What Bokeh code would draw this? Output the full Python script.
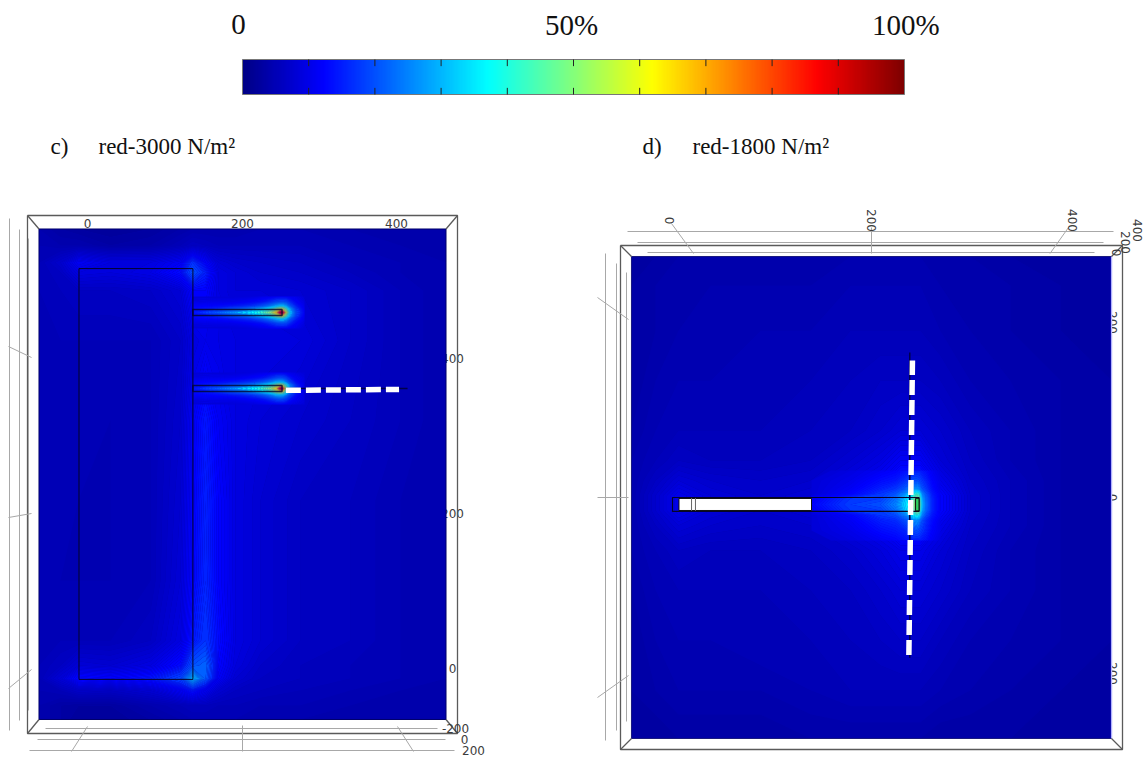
import numpy as np
from bokeh.core.properties import value
from bokeh.embed import file_html
from bokeh.models import LinearColorMapper, Range1d
from bokeh.plotting import figure
from bokeh.resources import INLINE

# ---------- colour scale (percent, r, g, b)
SCALE_STOPS = [0, 12, 37, 62, 87, 100]
SCALE_R = [0, 0, 0, 255, 255, 128]
SCALE_G = [0, 0, 255, 255, 0, 0]
SCALE_B = [135, 255, 255, 0, 0, 0]
BAR_LABELS = ["0", "50%", "100%"]
BAR_LABEL_AT = [-0.6, 49.7, 100.2]
BAR_TICKS = [10, 20, 30, 40, 50, 60, 70, 80, 90]

# ---------- panel c: stress field (percent of scale)
C_X = [-62.6, -34.8, -11.6, 29.7, 81.3, 120, 135.5, 152.3, 169, 191, 223.2, 274.8, 339.4, 403.9, 462.6]
C_Y = [567.1, 545.8, 523.9, 511, 487.7, 423.2, 320, 216.8, 113.5, 36.1, 3.9, -12.9, -28.4, -47.7, -65.8]
C_FIELD = [
    [4, 3, 2.5, 2, 2.5, 3.5, 4, 4, 4, 4, 4.5, 4.5, 4, 4, 4],
    [4.5, 4, 4, 3, 3.5, 5, 6, 5.5, 5, 5, 5, 5, 4.5, 4, 4],
    [5, 7, 11, 9, 9, 11, 17, 12, 8, 7, 6.5, 6, 5, 4.5, 4],
    [5, 6, 9, 8.5, 9.5, 13, 20, 15, 9, 8, 7, 6.5, 5.5, 4.5, 4],
    [5, 5.5, 6, 6, 6.5, 8, 12, 12, 9, 8, 8, 7.5, 6.5, 5, 4],
    [5, 5, 5, 5, 5, 6.5, 9, 10, 9.5, 9, 9, 8.5, 6.5, 5, 4],
    [5, 5, 5, 4.5, 5, 7, 11, 14, 11, 9, 8, 7, 6, 5, 4],
    [5, 5, 4.5, 4.5, 5, 7.5, 11.5, 15, 12, 9, 7.5, 6, 5.5, 4.5, 4],
    [5, 4.5, 4.5, 4.5, 5, 8, 12, 15.5, 12, 9, 7.5, 6, 5.5, 4.5, 4],
    [5, 5, 5, 5, 6, 9, 14, 17, 13, 9, 7.5, 6, 5.5, 4.5, 4],
    [5, 6, 8, 7.5, 9, 13, 20, 22, 12, 8.5, 6.5, 5.5, 5, 4.5, 4],
    [5, 8, 13, 12, 14, 19, 32, 21, 11, 7.5, 6, 5.5, 5, 4.5, 4],
    [4.5, 5, 6.5, 6, 7.5, 11, 14, 10.5, 7.5, 6, 5.5, 5, 4.5, 4, 4],
    [4, 3, 2.5, 2.5, 4, 5, 5.5, 5.5, 5, 5, 4.5, 4.5, 4, 4, 4],
    [4, 3, 2, 2, 3, 4, 4.5, 4.5, 4.5, 4.5, 4.5, 4, 4, 4, 4],
]
FIN_X = [135.5, 158.7, 184.5, 210.3, 225.8, 236.1, 243.9, 249, 252.9, 256.8, 262, 269.7, 280]
FIN1_Y = [480, 473.6, 468.4, 464.6, 459.4, 454.2, 450.4, 445.2, 438.8]
FIN2_Y = [381.9, 375.5, 370.3, 366.5, 361.3, 356.1, 352.3, 347.1, 340.7]
FIN1_FIELD = [
    [8, 8, 8, 8.5, 10, 11, 12, 12, 12, 12, 11, 10, 8],
    [9, 9.5, 10, 12, 14, 17, 20, 21, 21, 20, 16, 12, 9],
    [11, 12, 14, 17, 22, 27, 32, 34, 34, 30, 22, 15, 10],
    [13, 15, 20, 27, 34, 40, 50, 56, 54, 44, 30, 18, 11],
    [14, 20, 28, 36, 44, 52, 68, 96, 86, 58, 34, 20, 12],
    [13, 15, 20, 27, 34, 40, 50, 56, 54, 44, 30, 18, 11],
    [11, 12, 14, 17, 22, 27, 32, 34, 34, 30, 22, 15, 10],
    [9, 9.5, 10, 12, 14, 17, 20, 21, 21, 20, 16, 12, 9],
    [8, 8, 8, 8.5, 10, 11, 12, 12, 12, 12, 11, 10, 8],
]
FIN2_FIELD = [
    [8, 8, 8, 8.5, 10, 11, 12, 12, 12, 11, 10, 9, 8],
    [9, 9.5, 10, 12, 14, 17, 20, 21, 20, 18, 14, 11, 9],
    [11, 12, 14, 17, 22, 27, 32, 33, 32, 26, 19, 13, 9],
    [13, 15, 20, 27, 34, 40, 50, 54, 50, 40, 26, 16, 10],
    [14, 20, 28, 36, 44, 52, 66, 94, 80, 52, 30, 18, 11],
    [13, 15, 20, 27, 34, 40, 50, 54, 50, 40, 26, 16, 10],
    [11, 12, 14, 17, 22, 27, 32, 33, 32, 26, 19, 13, 9],
    [9, 9.5, 10, 12, 14, 17, 20, 21, 20, 18, 14, 11, 9],
    [8, 8, 8, 8.5, 10, 11, 12, 12, 12, 11, 10, 9, 8],
]

# ---------- panel d
D_X = [-69.7, -42.7, -16.9, 19.1, 75.3, 131.5, 176.4, 210.1, 232.6, 255.1, 277.5, 311.2, 356.2, 412.4, 469.7]
D_Y = [270.8, 238.2, 187.6, 131.5, 75.3, 41.6, 19.1, 2.2, -14.6, -31.5, -59.6, -104.5, -160.7, -216.9, -270.8]
D_FIELD = [
    [3, 3, 3.5, 3.5, 3.5, 3.5, 4, 4, 4, 4, 3.5, 3.5, 3, 3, 3],
    [3, 3.5, 4, 4, 4, 4, 4.5, 4.5, 4.5, 4.5, 4, 4, 3.5, 3, 3],
    [3, 3.5, 4, 4.5, 4.5, 4.5, 5, 5, 5, 5, 4.5, 4, 3.5, 3, 3],
    [3, 4, 4.5, 4.5, 5, 5, 5.5, 6, 6, 6, 5.5, 4.5, 4, 3.5, 3],
    [3.5, 4.5, 5, 5, 5, 5.5, 6, 7, 8, 8, 7, 5.5, 4.5, 3.5, 3],
    [4, 5, 6, 5.5, 5.5, 6, 7.5, 9, 11, 11, 8, 6, 4.5, 3.5, 3],
    [4, 6, 8, 7, 6.5, 7, 9, 11, 15, 15, 10, 6.5, 5, 3.5, 3],
    [4, 7, 10, 8, 7, 8, 11, 14, 20, 20, 12, 7, 5, 3.5, 3],
    [4, 7, 10, 8, 7, 8, 11, 14, 20, 20, 12, 7, 5, 3.5, 3],
    [4, 6, 8, 7, 6.5, 7, 9, 11, 15, 15, 10, 6.5, 5, 3.5, 3],
    [4, 5, 6, 5.5, 5.5, 6, 7, 8.5, 10, 10, 8, 6, 4.5, 3.5, 3],
    [3.5, 4.5, 5, 5, 5, 5.5, 6, 7, 8, 8, 7, 5.5, 4.5, 3.5, 3],
    [3, 4, 4.5, 4.5, 5, 5, 5.5, 6, 6.5, 6.5, 5.5, 4.5, 4, 3.5, 3],
    [3, 3.5, 4, 4, 4, 4.5, 5, 5, 5, 5, 4.5, 4, 3.5, 3, 3],
    [2.5, 2.5, 3, 3, 3, 3.5, 3.5, 3.5, 3.5, 3.5, 3, 3, 3, 2.5, 2.5],
]
TIP_X = [132.6, 176.4, 210.1, 227, 236, 241.6, 246.1, 250.6, 253.9, 257.3, 261.8, 268.5, 277.5]
TIP_Y = [30.3, 19.1, 10.1, 4.5, -1.1, -7.9, -14.6, -20.2, -25.8, -37.1, -48.3]
TIP_FIELD = [
    [7, 9, 11, 12, 13, 14, 15, 15, 15, 14, 13, 11, 9],
    [8, 10, 13, 14, 16, 18, 20, 20, 19, 17, 15, 12, 10],
    [8, 11, 15, 17, 20, 24, 28, 28, 26, 20, 17, 13, 10],
    [8, 12, 17, 20, 26, 32, 38, 42, 40, 26, 20, 14, 11],
    [11, 17, 18, 23, 30, 36, 44, 55, 50, 30, 22, 15, 11],
    [12, 18, 20, 25, 32, 38, 48, 60, 55, 32, 23, 15, 11],
    [11, 17, 18, 23, 30, 36, 44, 55, 50, 30, 22, 15, 11],
    [8, 12, 17, 19, 24, 30, 36, 40, 38, 26, 19, 14, 11],
    [8, 11, 15, 16, 19, 22, 27, 28, 26, 20, 16, 13, 10],
    [8, 10, 13, 14, 15, 17, 19, 20, 19, 17, 15, 12, 10],
    [7, 9, 11, 12, 13, 14, 15, 15, 15, 14, 13, 11, 9],
]

# ---------- pixel placement of the two plots and the bar
W, H = 1145, 759
PX_LEFT, PX_RIGHT, PX_BOTTOM, PX_TOP = 0, W, H, 0


def jet(v):
    r = np.interp(v, SCALE_STOPS, SCALE_R)
    g = np.interp(v, SCALE_STOPS, SCALE_G)
    b = np.interp(v, SCALE_STOPS, SCALE_B)
    return "#%02x%02x%02x" % (int(r), int(g), int(b))


p = figure(width=W, height=H, output_backend="svg", toolbar_location=None,
           x_range=Range1d(PX_LEFT, PX_RIGHT), y_range=Range1d(PX_BOTTOM, PX_TOP),
           min_border=0, outline_line_color=None)
p.xaxis.visible = False
p.yaxis.visible = False
p.grid.visible = False
p.background_fill_color = "white"


def add_scale(name, x0_px, y0_px, sx, sy):
    p.extra_x_ranges[name + "x"] = Range1d((PX_LEFT - x0_px) / sx, (PX_RIGHT - x0_px) / sx)
    p.extra_y_ranges[name + "y"] = Range1d((y0_px - PX_BOTTOM) / sy, (y0_px - PX_TOP) / sy)


add_scale("c", 87, 668, 0.775, 0.775)
add_scale("d", 693, 497, 0.89, 0.89)
add_scale("bar", 242, 94, 6.62, 35)

SER = value("Liberation Serif")
SANS = value("DejaVu Sans")
TICK_GRAY = "#a8a8a8"
FRAME = "#5a5a5a"
LABEL = "#3c3c3c"
BAR_Y = dict(x_range_name="barx", y_range_name="bary")
CS = dict(x_range_name="cx", y_range_name="cy")
DS = dict(x_range_name="dx", y_range_name="dy")

# ---------- colour bar
mapper = LinearColorMapper(palette=[jet(v) for v in np.linspace(0, 100, 256)], low=0, high=100)
p.image(image=[np.linspace(0, 100, 662).reshape(1, -1)], x=0, y=0, dw=100, dh=1,
        color_mapper=mapper, **BAR_Y)
p.quad(left=[0], right=[100], bottom=[0], top=[1], fill_alpha=0, line_color="#777777", line_width=1, **BAR_Y)
p.segment(x0=BAR_TICKS, x1=BAR_TICKS, y0=[0] * 9, y1=[0.19] * 9, line_color="#222222", line_width=1, **BAR_Y)
p.segment(x0=BAR_TICKS, x1=BAR_TICKS, y0=[1] * 9, y1=[0.81] * 9, line_color="#222222", line_width=1, **BAR_Y)
p.text(x=BAR_LABEL_AT, y=[2.0] * 3, text=BAR_LABELS, text_font=SER, text_font_size="29px",
       text_color="#111111", text_align="center", text_baseline="middle", **BAR_Y)

# ---------- headings
p.text(x=[50, 98, 642, 692], y=[146] * 4, text=["c)", "red-3000 N/m²", "d)", "red-1800 N/m²"],
       text_font=SER, text_font_size="23px", text_color="#111111", text_baseline="middle")

# ---------- plot furniture drawn beneath the fields
p.text(x=[452, 452, 452], y=[358, 513, 668], text=["400", "200", "0"], text_font=SANS, text_font_size="12px",
       text_color=LABEL, text_align="center", text_baseline="middle")
p.text(x=[1112, 1112, 1112], y=[322, 497, 673], text=["200", "0", "200"], angle=-np.pi / 2, text_font=SANS,
       text_font_size="12px", text_color=LABEL, text_align="center", text_baseline="middle")

# ---------- fields
LEVELS = list(np.arange(1.5, 16, 0.5)) + list(np.arange(16, 30, 1.0)) + list(np.arange(30, 101, 2.0))
LOCAL = [v for v in LEVELS if v >= 8]


def field(xs, ys, rows, levels, xr, yr):
    rows = np.array(rows, dtype=float)[::-1]
    ys = np.array(ys, dtype=float)[::-1]
    colors = [jet((a + b) / 2) for a, b in zip(levels[:-1], levels[1:])]
    cr = p.contour(np.array(xs, dtype=float), ys, rows, levels, fill_color=colors, line_color=None)
    g = cr.fill_renderer.glyph
    g.line_color = g.fill_color
    g.line_width = 0.7
    for r in (cr, cr.fill_renderer, cr.line_renderer):
        r.x_range_name = xr
        r.y_range_name = yr
    return cr


p.quad(left=[C_X[0]], right=[C_X[-1]], bottom=[C_Y[-1]], top=[C_Y[0]], fill_color=jet(4), line_color=None, **CS)
p.quad(left=[D_X[0]], right=[D_X[-1]], bottom=[D_Y[-1]], top=[D_Y[0]], fill_color=jet(3.5), line_color=None, **DS)
field(C_X, C_Y, C_FIELD, LEVELS, "cx", "cy")
field(FIN_X, FIN1_Y, FIN1_FIELD, LOCAL, "cx", "cy")
field(FIN_X, FIN2_Y, FIN2_FIELD, LOCAL, "cx", "cy")
field(D_X, D_Y, D_FIELD, LEVELS, "dx", "dy")
field(TIP_X, TIP_Y, TIP_FIELD, LOCAL, "dx", "dy")
p.quad(left=[C_X[0]], right=[C_X[-1]], bottom=[C_Y[-1]], top=[C_Y[0]], fill_alpha=0, line_color="#00006a",
       line_width=1, **CS)
p.quad(left=[D_X[0]], right=[D_X[-1]], bottom=[D_Y[-1]], top=[D_Y[0]], fill_alpha=0, line_color="#1a1a80",
       line_width=1, **DS)
p.line(x=[D_X[-1], D_X[-1]], y=[D_Y[0], D_Y[-1]], line_color="#b0b0ff", line_width=1.2, **DS)

# ---------- structure outlines
DARK = "#04042a"
p.quad(left=[-11], right=[136], bottom=[-14], top=[516], fill_alpha=0, line_color=DARK, line_width=1, **CS)
p.quad(left=[136, 136], right=[251, 251], bottom=[455.5, 357.4], top=[463.2, 365.2], fill_alpha=0,
       line_color=DARK, line_alpha=0.8, line_width=1.5, **CS)
p.line(x=[256, 413], y=[361.3, 361.3], line_color="#00004a", line_width=1.5, **CS)
p.line(x=[256, 402], y=[359, 360], line_color="white", line_width=5.5, line_dash="15 5", **CS)

p.quad(left=[-23.6], right=[253.4], bottom=[-15.7], top=[0], fill_alpha=0, line_color=DARK, line_width=1.2, **DS)
p.quad(left=[-16.3], right=[132.6], bottom=[-14.6], top=[-1.1], fill_color="white", line_color="#111111",
       line_width=1, **DS)
p.segment(x0=[-2.2, 2.2], x1=[-2.2, 2.2], y0=[-0.5, -0.5], y1=[-15, -15], line_color="#666666", line_width=1, **DS)
p.quad(left=[249.5], right=[253.4], bottom=[-15], top=[-1], fill_color="#30d060", line_color="#111111",
       line_width=1, **DS)
p.line(x=[243, 243], y=[163, -180], line_color="#00004a", line_width=1.5, **DS)
p.line(x=[242, 246], y=[-177, 154], line_color="white", line_width=5.5, line_dash="15 5", **DS)

# ---------- frames
C_OUT = (27, 457, 215, 733)
C_IN = (38.5, 445.5, 228.5, 719)
D_OUT = (620, 1122, 245, 749)
D_IN = (631, 1111, 256, 738)
for (ol, or_, ot, ob), (il, ir, it, ib) in ((C_OUT, C_IN), (D_OUT, D_IN)):
    p.multi_line(xs=[[ol, or_, or_, ol, ol], [ol, il], [or_, ir], [ol, il], [or_, ir]],
                 ys=[[ot, ot, ob, ob, ot], [ot, it], [ot, it], [ob, ib], [ob, ib]],
                 line_color=FRAME, line_width=1.3)

# ---------- axis furniture (screen-space perspective lines)
GX0 = [9, 19, 28, 45, 37, 29, 8, 8, 8, 87, 242, 397,
       605, 616, 626, 627, 637, 647, 597, 597, 597, 693, 871, 1049.5]
GY0 = [218, 229, 238, 728, 739, 750, 346, 517, 688, 726, 725, 726,
       253, 263, 272, 231, 242, 252, 297, 497, 697, 253, 253, 253]
GX1 = [9, 19, 28, 437, 445, 454, 31, 31, 31, 71, 242, 413,
       605, 616, 626, 1113, 1103, 1094, 628, 628, 628, 671, 871, 1068]
GY1 = [730, 720, 710, 728, 739, 750, 357, 513, 669, 751, 751, 751,
       740, 730, 721, 231, 242, 252, 319, 497, 675, 223, 227, 227]
p.segment(x0=GX0, y0=GY0, x1=GX1, y1=GY1, line_color=TICK_GRAY, line_width=1)

p.text(x=[87, 242, 396, 455, 464, 473], y=[223, 223, 223, 728, 739, 750],
       text=["0", "200", "400", "-200", "0", "200"], text_font=SANS, text_font_size="12px",
       text_color=LABEL, text_align="center", text_baseline="middle")
p.text(x=[669, 871, 1072, 1137, 1125, 1116], y=[220, 220, 220, 230, 242, 252],
       text=["0", "200", "400", "400", "200", "0"], angle=-np.pi / 2, text_font=SANS, text_font_size="12px",
       text_color=LABEL, text_align="center", text_baseline="middle")

open("out.html", "w").write(file_html(p, INLINE))
